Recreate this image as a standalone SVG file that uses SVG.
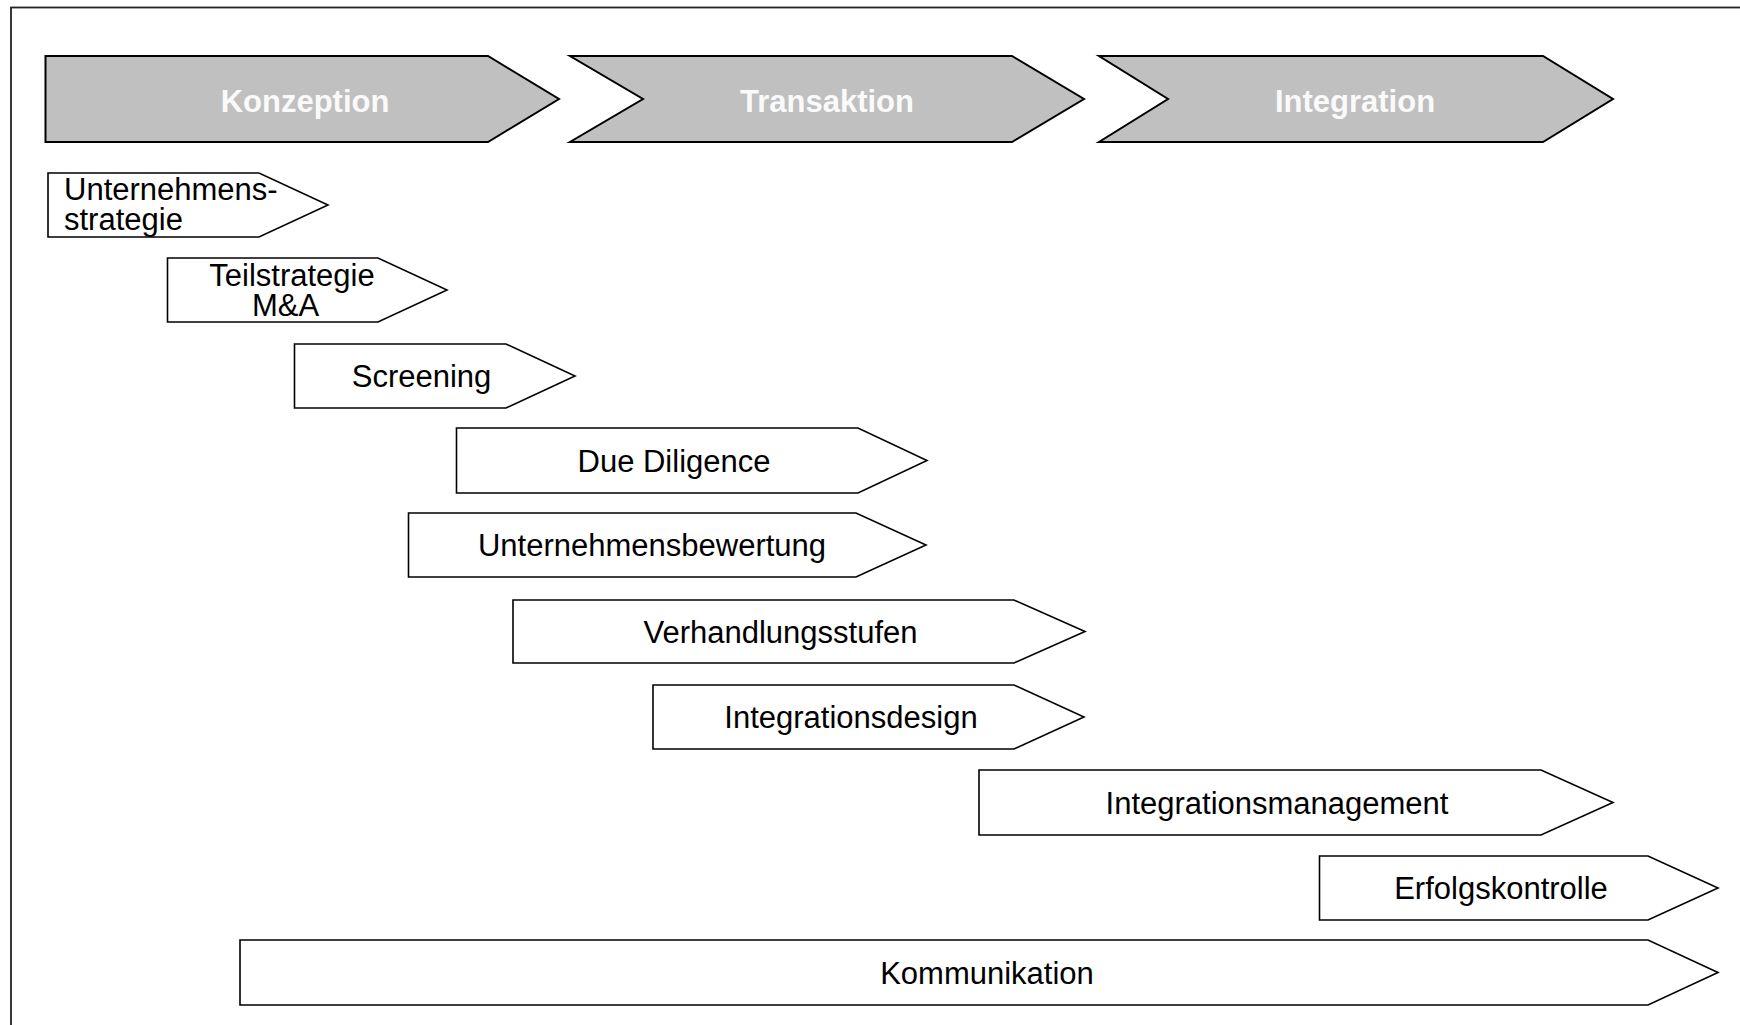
<svg xmlns="http://www.w3.org/2000/svg" width="1740" height="1025" viewBox="0 0 1740 1025">
<style>
.frame{fill:none;stroke:#222;stroke-width:1.8}
.phase{fill:#c0c0c0;stroke:#000;stroke-width:2;stroke-linejoin:miter}
.task{fill:#fff;stroke:#000;stroke-width:1.6;stroke-linejoin:miter}
.pt{font-family:"Liberation Sans",Arial,sans-serif;font-weight:bold;font-size:31px;fill:#fafafa;text-anchor:middle}
.tt{font-family:"Liberation Sans",Arial,sans-serif;font-size:31px;fill:#000;text-anchor:middle}
.tl{font-family:"Liberation Sans",Arial,sans-serif;font-size:31px;fill:#000}
</style>
<rect width="1740" height="1025" fill="#fff"/>
<rect class="frame" x="11" y="7.5" width="1760" height="1060"/>
<g id="connectors"></g>
<g id="phase-konzeption">
<polygon class="phase" points="45.5,56 488,56 559,99 488,142 45.5,142"/>
<text class="pt" x="305" y="112">Konzeption</text>
</g>
<g id="phase-transaktion">
<polygon class="phase" points="570,56 1012,56 1084,99 1012,142 570,142 643,99"/>
<text class="pt" x="827" y="112">Transaktion</text>
</g>
<g id="phase-integration">
<polygon class="phase" points="1099,56 1543,56 1613,99 1543,142 1099,142 1168,99"/>
<text class="pt" x="1355" y="112">Integration</text>
</g>
<g id="task-unternehmensstrategie">
<polygon class="task" points="48,173 259,173 328,205 259,237 48,237"/>
<text class="tl"><tspan x="64" y="200">Unternehmens-</tspan><tspan x="64" y="230">strategie</tspan></text>
</g>
<g id="task-teilstrategie">
<polygon class="task" points="167.5,258 378,258 447,290 378,322 167.5,322"/>
<text class="tt"><tspan x="292" y="286">Teilstrategie</tspan><tspan x="285.5" y="316">M&amp;A</tspan></text>
</g>
<g id="task-screening">
<polygon class="task" points="294.5,344 506,344 575,376 506,408 294.5,408"/>
<text class="tt" x="421.5" y="387">Screening</text>
</g>
<g id="task-due-diligence">
<polygon class="task" points="456.5,428 858,428 927,460.5 858,493 456.5,493"/>
<text class="tt" x="674" y="472">Due Diligence</text>
</g>
<g id="task-unternehmensbewertung">
<polygon class="task" points="408.5,513 856,513 926,545 856,577 408.5,577"/>
<text class="tt" x="652" y="556">Unternehmensbewertung</text>
</g>
<g id="task-verhandlungsstufen">
<polygon class="task" points="513,600 1014,600 1085,631.5 1014,663 513,663"/>
<text class="tt" x="780.5" y="643">Verhandlungsstufen</text>
</g>
<g id="task-integrationsdesign">
<polygon class="task" points="653,685 1014,685 1084,717 1014,749 653,749"/>
<text class="tt" x="851" y="728">Integrationsdesign</text>
</g>
<g id="task-integrationsmanagement">
<polygon class="task" points="979,770 1541,770 1613,802.5 1541,835 979,835"/>
<text class="tt" x="1277" y="814">Integrationsmanagement</text>
</g>
<g id="task-erfolgskontrolle">
<polygon class="task" points="1319.5,856 1648,856 1718,888 1648,920 1319.5,920"/>
<text class="tt" x="1501" y="899">Erfolgskontrolle</text>
</g>
<g id="task-kommunikation">
<polygon class="task" points="240,940 1648,940 1718,972.5 1648,1005 240,1005"/>
<text class="tt" x="987" y="984">Kommunikation</text>
</g>
</svg>
